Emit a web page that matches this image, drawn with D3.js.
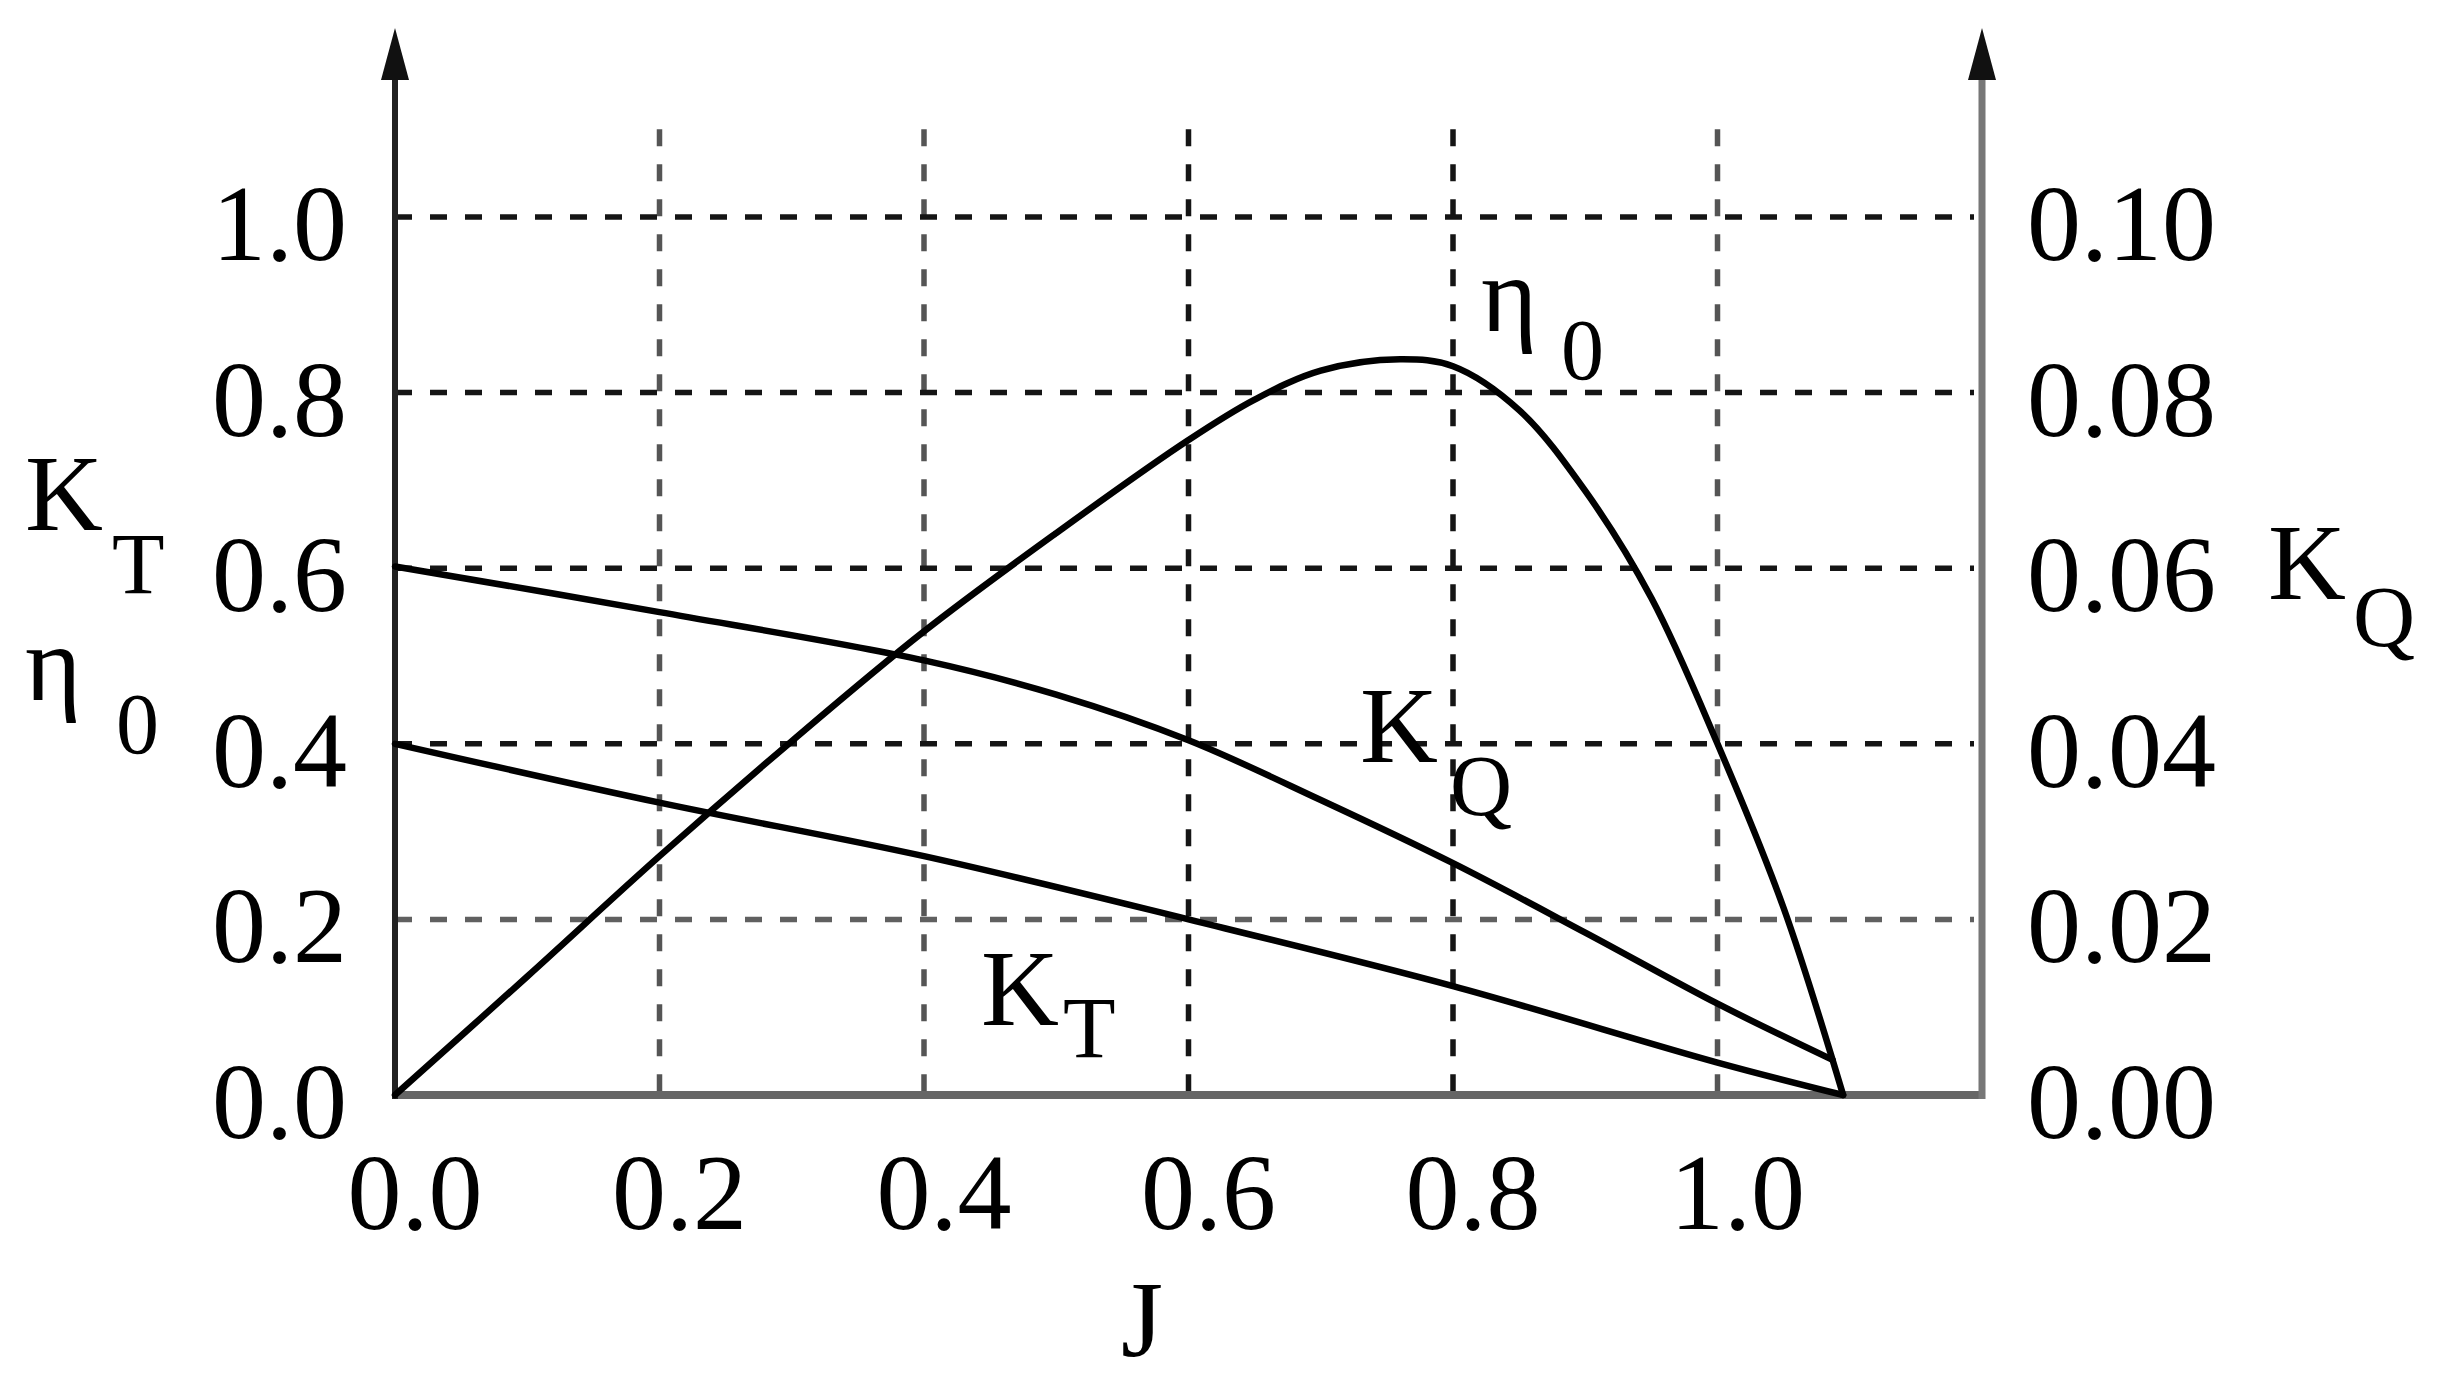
<!DOCTYPE html>
<html>
<head>
<meta charset="utf-8">
<script src="https://cdn.jsdelivr.net/npm/d3@7"></script>
<style>
  html, body { margin: 0; padding: 0; background: #fff; }
  svg { display: block; }
  text { font-family: "Liberation Serif", "Times New Roman", serif; fill: #000; }
</style>
</head>
<body>
<svg id="chart" width="2447" height="1396"></svg>
<script>
// ---------- data ----------
const xTicks = [0.0, 0.2, 0.4, 0.6, 0.8, 1.0];
const xTickLabels = ["0.0", "0.2", "0.4", "0.6", "0.8", "1.0"];
const yLeftTicks = [0.0, 0.2, 0.4, 0.6, 0.8, 1.0];
const yLeftTickLabels = ["0.0", "0.2", "0.4", "0.6", "0.8", "1.0"];
const yRightTicks = [0.00, 0.02, 0.04, 0.06, 0.08, 0.10];
const yRightTickLabels = ["0.00", "0.02", "0.04", "0.06", "0.08", "0.10"];

// Thrust coefficient K_T (left axis)
const ktJ = [0.0, 0.2, 0.4, 0.6, 0.8, 1.0, 1.095];
const ktV = [0.400, 0.333, 0.272, 0.200, 0.124, 0.037, 0.0];

// Torque coefficient K_Q (right axis)
const kqJ = [0.0, 0.2, 0.4, 0.5, 0.6, 0.7, 0.8, 0.9, 1.0, 1.087];
const kqV = [0.0602, 0.0550, 0.0495, 0.0456, 0.0404, 0.0336, 0.0264, 0.0185, 0.0104, 0.0040];

// Open-water efficiency eta_0 (left axis)
const etaJ = [0.0, 0.1, 0.2, 0.3, 0.4, 0.5, 0.6, 0.65, 0.7, 0.76, 0.8, 0.85, 0.9, 0.95, 1.0, 1.05, 1.095];
const etaV = [0.0, 0.135, 0.272, 0.403, 0.528, 0.640, 0.746, 0.792, 0.825, 0.838, 0.830, 0.780, 0.688, 0.566, 0.400, 0.213, 0.0];

// ---------- layout ----------
const svg = d3.select("#chart");
const x = d3.scaleLinear().domain([0, 1.2]).range([395, 1982]);
const yL = d3.scaleLinear().domain([0, 1.0]).range([1095, 217]);
const yR = d3.scaleLinear().domain([0, 0.10]).range([1095, 217]);
const yTop = 1.1;      // extent of vertical grid lines
const axisTopPx = 28;  // arrow tip

const FS = 108, FSsub = 86;

// ---------- grid ----------
const lightV = new Set([0.2, 0.4, 1.0]);
const lightH = new Set([0.2]);
const grid = svg.append("g");
grid.selectAll("line.v").data(xTicks.filter(d => d > 0)).enter().append("line")
  .attr("x1", d => x(d)).attr("x2", d => x(d))
  .attr("y1", yL(yTop)).attr("y2", yL(0))
  .attr("stroke", d => lightV.has(d) ? "#555" : "#151515")
  .attr("stroke-width", 5.5)
  .attr("stroke-dasharray", "17,18");
grid.selectAll("line.h").data(yLeftTicks.filter(d => d > 0)).enter().append("line")
  .attr("x1", x(0)).attr("x2", x(1.2) - 8)
  .attr("y1", d => yL(d)).attr("y2", d => yL(d))
  .attr("stroke", d => lightH.has(d) ? "#606060" : "#151515")
  .attr("stroke-width", 5.5)
  .attr("stroke-dasharray", "17,18");

// ---------- axes ----------
const axes = svg.append("g");
// bottom axis
axes.append("line")
  .attr("x1", x(0)).attr("x2", x(1.2) + 3)
  .attr("y1", yL(0)).attr("y2", yL(0))
  .attr("stroke", "#666").attr("stroke-width", 8);
// left axis
axes.append("line")
  .attr("x1", x(0)).attr("x2", x(0))
  .attr("y1", yL(0) + 4).attr("y2", axisTopPx + 40)
  .attr("stroke", "#222").attr("stroke-width", 6);
// right axis
axes.append("line")
  .attr("x1", x(1.2)).attr("x2", x(1.2))
  .attr("y1", yL(0) + 4).attr("y2", axisTopPx + 40)
  .attr("stroke", "#777").attr("stroke-width", 7);
// arrow heads
function arrow(cx) {
  axes.append("path")
    .attr("d", `M${cx},${axisTopPx} L${cx - 14},${axisTopPx + 52} L${cx + 14},${axisTopPx + 52} Z`)
    .attr("fill", "#111");
}
arrow(x(0));
arrow(x(1.2));

// tick labels
svg.append("g").selectAll("text").data(yLeftTicks).enter().append("text")
  .attr("x", 347).attr("y", d => yL(d) + 43)
  .attr("text-anchor", "end").attr("font-size", FS)
  .text((d, i) => yLeftTickLabels[i]);
svg.append("g").selectAll("text").data(yRightTicks).enter().append("text")
  .attr("x", 2027).attr("y", d => yR(d) + 43)
  .attr("text-anchor", "start").attr("font-size", FS)
  .text((d, i) => yRightTickLabels[i]);
svg.append("g").selectAll("text").data(xTicks).enter().append("text")
  .attr("x", d => x(d) + 20).attr("y", 1229)
  .attr("text-anchor", "middle").attr("font-size", FS)
  .text((d, i) => xTickLabels[i]);

// ---------- curves ----------
const curves = svg.append("g").attr("fill", "none").attr("stroke", "#000")
  .attr("stroke-width", 6.5).attr("stroke-linejoin", "round").attr("stroke-linecap", "round");
const lineL = d3.line().x(d => x(d[0])).y(d => yL(d[1])).curve(d3.curveCatmullRom.alpha(0.5));
const lineR = d3.line().x(d => x(d[0])).y(d => yR(d[1])).curve(d3.curveCatmullRom.alpha(0.5));
curves.append("path").attr("d", lineL(d3.zip(ktJ, ktV)));
curves.append("path").attr("d", lineR(d3.zip(kqJ, kqV)));
curves.append("path").attr("d", lineL(d3.zip(etaJ, etaV)));

// ---------- labels with subscripts ----------
function subLabel(main, sub, mx, my, sx, sy) {
  const g = svg.append("g");
  g.append("text").attr("x", mx).attr("y", my).attr("font-size", FS).text(main);
  g.append("text").attr("x", sx).attr("y", sy).attr("font-size", FSsub).text(sub);
}
subLabel("K", "T", 25, 530, 112, 593);     // left axis title
subLabel("η", "0", 25, 700, 116, 753);     // left axis title
subLabel("K", "Q", 2268, 599, 2353, 646);  // right axis title
subLabel("η", "0", 1481, 331, 1561, 379);  // efficiency curve label
subLabel("K", "Q", 1360, 762, 1450, 815);  // torque curve label
subLabel("K", "T", 981, 1025, 1063, 1057); // thrust curve label

svg.append("text").attr("x", 1142).attr("y", 1356)
  .attr("text-anchor", "middle").attr("font-size", FS).text("J");
</script>
</body>
</html>
